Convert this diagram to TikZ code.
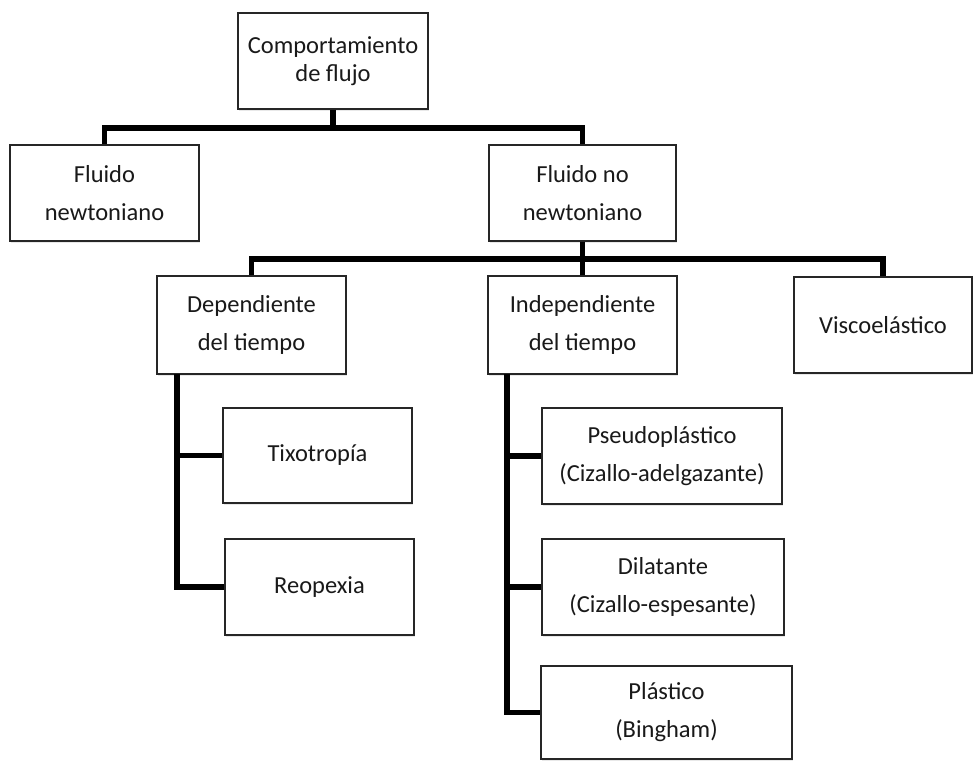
\documentclass[tikz,border=0pt]{standalone}
\usepackage{fontspec}
\setmainfont{Carlito}
\usetikzlibrary{positioning,shadows}

\begin{document}
\begin{tikzpicture}[x=1pt,y=-1pt,
  box/.style={draw=black!85,line width=1.6pt,fill=white,align=center,
    text=black!90,inner sep=0pt,font=\fontsize{24.5}{38}\selectfont,
    drop shadow={opacity=0.18,shadow xshift=1pt,shadow yshift=-1.5pt}},
  conn/.style={line width=5.5pt,black,line join=miter}]
\useasboundingbox (0,0) rectangle (974,760);
% nodos
\node[box,minimum width=190pt,minimum height=96pt,font=\fontsize{24.5}{28}\selectfont]
  (flujo) at (333,61) {Comportamiento\\de flujo};
\node[box,minimum width=189pt,minimum height=96pt] (newt) at (104.5,193) {Fluido\\newtoniano};
\node[box,minimum width=187pt,minimum height=96pt] (nonewt) at (582.5,193) {Fluido no\\newtoniano};
\node[box,minimum width=189pt,minimum height=98pt] (dep) at (251.5,325) {Dependiente\\del tiempo};
\node[box,minimum width=189pt,minimum height=98pt] (indep) at (582.5,325) {Independiente\\del tiempo};
\node[box,minimum width=178pt,minimum height=96pt] (visco) at (883,325) {Viscoel\'astico};
\node[box,minimum width=189pt,minimum height=95pt] (tixo) at (317.5,455.5) {Tixotrop\'ia};
\node[box,minimum width=189pt,minimum height=96pt] (reo) at (319.5,587) {Reopexia};
\node[box,minimum width=240pt,minimum height=96pt] (pseudo) at (662,456) {Pseudopl\'astico\\(Cizallo-adelgazante)};
\node[box,minimum width=242pt,minimum height=96pt] (dil) at (663,587) {Dilatante\\(Cizallo-espesante)};
\node[box,minimum width=251pt,minimum height=93pt] (plast) at (666.5,712.5) {Pl\'astico\\(Bingham)};
% uniones
\coordinate (bus1) at (333,128);
\coordinate (bus2) at (582.5,259);
\coordinate (dtrunk) at (177,374);
\coordinate (itrunk) at (507,374);
\draw[conn] (flujo.south) -- (bus1);
\draw[conn] (newt.north) |- (bus1) -| (nonewt.north);
\draw[conn] (nonewt.south) -- (bus2);
\draw[conn] (dep.north) |- (bus2) -| (visco.north);
\draw[conn] (bus2) -- (indep.north);
\draw[conn] (dtrunk) |- (reo.west);
\draw[conn] (tixo.west) -- (tixo.west -| dtrunk);
\draw[conn] (itrunk) |- (plast.west);
\draw[conn] (pseudo.west) -- (pseudo.west -| itrunk);
\draw[conn] (dil.west) -- (dil.west -| itrunk);
\end{tikzpicture}
\end{document}
